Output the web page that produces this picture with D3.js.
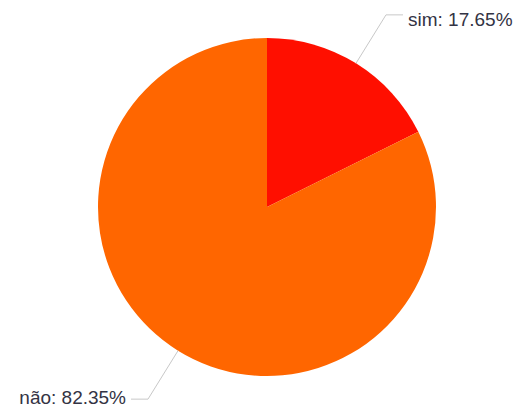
<!DOCTYPE html>
<html>
<head>
<meta charset="utf-8">
<script src="https://cdn.jsdelivr.net/npm/d3@7"></script>
<style>
  html, body { margin: 0; padding: 0; background: #fff; }
  svg { display: block; }
</style>
</head>
<body>
<svg width="518" height="409"></svg>
<script>
// Chart data
const categories = ['sim', 'não'];
const percents = [17.65, 82.35];
const colors = ['#ff0f00', '#ff6600'];

// Style values
const width = 518,
  height = 409;
const cx = 267,
  cy = 207,
  radius = 169;
const elbowLength = 57;
const tailLength = 17;
const labelGap = 5;
const fontSize = 19;
const lineColor = '#c8c8c8';
const textColor = '#333344';

const svg = d3.select('svg');
const container = svg.append('g').attr('transform', `translate(${cx},${cy})`);

const data = categories.map((c, i) => ({ name: c, value: percents[i], color: colors[i] }));

const pie = d3.pie().sort(null).value((d) => d.value);
const arc = d3.arc().innerRadius(0).outerRadius(radius);
const arcs = pie(data);

container
  .selectAll('.slice')
  .data(arcs)
  .enter()
  .append('path')
  .attr('class', 'slice')
  .attr('d', arc)
  .attr('fill', (d) => d.data.color);

// Label connectors
function labelPoints(d) {
  const mid = (d.startAngle + d.endAngle) / 2;
  const sx = Math.sin(mid),
    sy = -Math.cos(mid);
  const start = [sx * radius, sy * radius];
  const elbow = [sx * (radius + elbowLength), sy * (radius + elbowLength)];
  const dir = sx >= 0 ? 1 : -1;
  const end = [elbow[0] + dir * tailLength, elbow[1]];
  return { start, elbow, end, dir };
}

const labels = container
  .selectAll('.label')
  .data(arcs)
  .enter()
  .append('g')
  .attr('class', 'label');

labels
  .append('polyline')
  .attr('points', (d) => {
    const p = labelPoints(d);
    return [p.start, p.elbow, p.end].map((q) => q.join(',')).join(' ');
  })
  .attr('fill', 'none')
  .attr('stroke', lineColor)
  .attr('stroke-width', 1);

labels
  .append('text')
  .attr('x', (d) => {
    const p = labelPoints(d);
    return p.end[0] + p.dir * labelGap;
  })
  // top label sits a bit under its line, bottom one centred on it
  .attr('y', (d) => {
    const p = labelPoints(d);
    return p.end[1] + (p.dir > 0 ? 5 : -1);
  })
  .attr('dy', '0.32em')
  .attr('text-anchor', (d) => (labelPoints(d).dir > 0 ? 'start' : 'end'))
  .attr('font-family', 'Liberation Sans, Arial, sans-serif')
  .attr('font-size', `${fontSize}px`)
  .attr('fill', textColor)
  .text((d) => `${d.data.name}: ${d.data.value.toFixed(2)}%`);
</script>
</body>
</html>
